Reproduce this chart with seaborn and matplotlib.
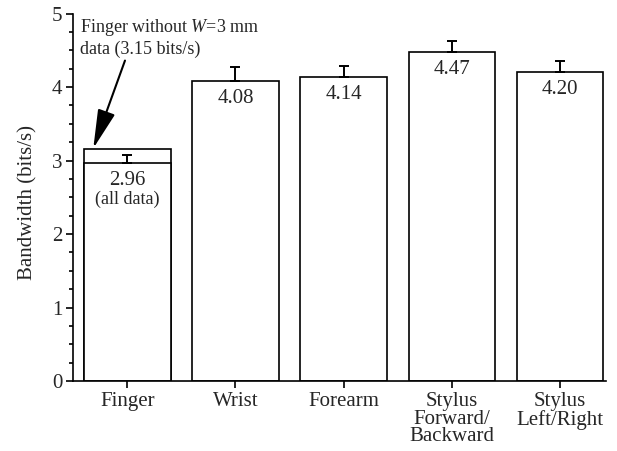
import numpy as np
import pandas as pd
import matplotlib
matplotlib.use('Agg')
import matplotlib.pyplot as plt
import seaborn as sns

# data
devices = ['Finger', 'Wrist', 'Forearm', 'Stylus\nForward/\nBackward', 'Stylus\nLeft/Right']
bandwidth = [2.96, 4.08, 4.14, 4.47, 4.20]
errors = [0.12, 0.19, 0.15, 0.15, 0.16]
finger_no_w3 = 3.15
value_labels = ['2.96', '4.08', '4.14', '4.47', '4.20']

sns.set_theme(style='ticks')
plt.rcParams['font.family'] = ['Liberation Serif', 'DejaVu Serif']
plt.rcParams['mathtext.fontset'] = 'custom'
plt.rcParams['mathtext.rm'] = 'Liberation Serif'
plt.rcParams['mathtext.it'] = 'Liberation Serif:italic'

df = pd.DataFrame({'device': devices, 'bw': bandwidth})

fig = plt.figure(figsize=(6.17, 4.51), dpi=100)
ax = fig.add_axes([0.1188, 0.1552, 0.864, 0.8148])

# the Finger bar without W=3 mm, drawn behind the all-data bar
ax.bar(0, finger_no_w3, width=0.8, color='white', edgecolor='black', linewidth=1.2, zorder=1)

sns.barplot(data=df, x='device', y='bw', color='white', edgecolor='black',
            linewidth=1.2, width=0.8, saturation=1, errorbar=None, ax=ax, zorder=2)

x = np.arange(len(devices))
ax.errorbar(x, bandwidth, yerr=[np.zeros(len(errors)), errors], fmt='none',
            ecolor='black', elinewidth=1.4, capsize=3.4, capthick=1.4, zorder=3)

for xi, v, lab in zip(x, bandwidth, value_labels):
    ax.annotate(lab, xy=(xi, v), xytext=(0, -12.5), textcoords='offset points',
                ha='center', va='center', fontsize=15, zorder=4)
ax.annotate('(all data)', xy=(0, bandwidth[0]), xytext=(0, -26), textcoords='offset points',
            ha='center', va='center', fontsize=13, zorder=4)

ax.text(-0.438, 4.95, 'Finger without $W$=3 mm\ndata (3.15 bits/s)', ha='left', va='top',
        fontsize=13, linespacing=1.15)
ax.annotate('', xy=(-0.315, 3.166), xytext=(-0.022, 4.36),
            arrowprops=dict(arrowstyle='-|>,head_length=2.4,head_width=0.55', color='black',
                            lw=1.5, shrinkA=0, shrinkB=0, mutation_scale=10))

ax.set_xlim(-0.5, 4.43)
ax.set_ylim(0, 5)
ax.set_yticks([0, 1, 2, 3, 4, 5])
ax.set_yticks(np.arange(0, 5.01, 0.25), minor=True)
ax.set_xlabel('')
ax.set_ylabel('Bandwidth (bits/s)', fontsize=15)
ax.yaxis.set_label_coords(-0.068, 0.485)
ax.tick_params(axis='both', which='major', labelsize=15, length=5, width=1.2, color='black', pad=3)
ax.tick_params(axis='y', which='minor', length=3, width=1.2, color='black')
ax.tick_params(axis='x', which='minor', bottom=False)
for lab in ax.get_xticklabels():
    lab.set_linespacing(0.9)
sns.despine(ax=ax)
for s in ['left', 'bottom']:
    ax.spines[s].set_linewidth(1.2)
    ax.spines[s].set_color('black')

fig.savefig('out.png', dpi=100)
